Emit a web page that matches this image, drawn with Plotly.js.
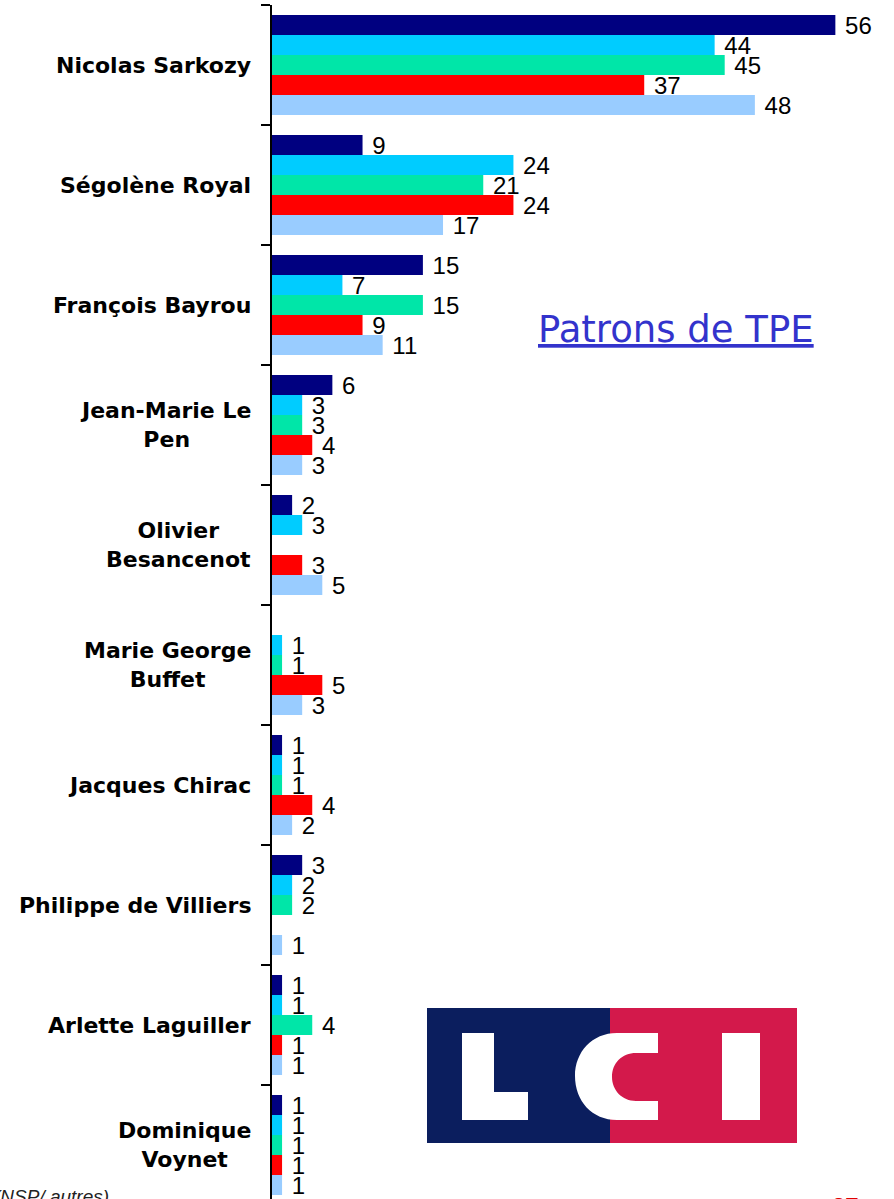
<!DOCTYPE html>
<html><head><meta charset="utf-8">
<script src="https://cdn.plot.ly/plotly-3.0.1.min.js"></script>
<style>html,body{margin:0;padding:0;background:#fff;}</style>
</head><body><div id="chart" style="width:894px;height:1199px;"></div>
<script>
const categories = ["Nicolas Sarkozy","Ségolène Royal","François Bayrou","Jean-Marie Le<br>Pen","Olivier<br>Besancenot","Marie George<br>Buffet","Jacques Chirac","Philippe de Villiers","Arlette Laguiller","Dominique<br>Voynet"];
const seriesNames = ["Série 1","Série 2","Série 3","Série 4","Série 5"];
const serie1 = [56, 9, 15, 6, 2, null, 1, 3, 1, 1];
const serie2 = [44, 24, 7, 3, 3, 1, 1, 2, 1, 1];
const serie3 = [45, 21, 15, 3, null, 1, 1, 2, 4, 1];
const serie4 = [37, 24, 9, 4, 3, 5, 4, null, 1, 1];
const serie5 = [48, 17, 11, 3, 5, 3, 2, 1, 1, 1];
const colors = ["#000080","#00CCFF","#00E6A8","#FF0000","#99CCFF"];
const allSeries = [serie1, serie2, serie3, serie4, serie5];

const W = 894, H = 1199, L = 272, R = 0, T = 5, B = 0;
const PW = W - L - R, PH = H - T - B;
const px = x => (x - L) / PW;
const py = y => 1 - (y - T) / PH;

const traces = allSeries.map((vals, i) => ({
  type: 'bar', orientation: 'h', name: seriesNames[i],
  y: categories, x: vals,
  marker: {color: colors[i], line: {width: 0}},
  text: vals.map(v => v == null ? '' : '\u00a0' + v),
  textposition: 'outside', constraintext: 'none', cliponaxis: false,
  textfont: {family: 'Liberation Sans, Arial, sans-serif', size: 24, color: '#000'},
  hoverinfo: 'x+y'
}));

const annotations = categories.map(c => ({
  xref: 'paper', yref: 'y', x: px(253), y: c, xanchor: 'right', yanchor: 'middle',
  align: 'center', showarrow: false, text: c,
  font: {family: 'DejaVu Sans, sans-serif', size: 22, color: '#000', weight: 'bold'}
}));
annotations.push({
  xref: 'paper', yref: 'paper', x: px(676), y: py(329), xanchor: 'center', yanchor: 'middle',
  showarrow: false, text: '<u>Patrons de TPE</u>',
  font: {family: 'DejaVu Sans, sans-serif', size: 37, color: '#3333CC'}
});
annotations.push({
  xref: 'paper', yref: 'paper', x: px(111), y: py(1184), xanchor: 'right', yanchor: 'top',
  showarrow: false, text: '<i>(NSP/ autres)</i>',
  font: {family: 'Liberation Sans, Arial, sans-serif', size: 19, color: '#222'}
});
annotations.push({
  xref: 'paper', yref: 'paper', x: px(845), y: py(1191), xanchor: 'center', yanchor: 'top',
  showarrow: false, text: '<b>27</b>',
  font: {family: 'Liberation Sans, Arial, sans-serif', size: 24, color: '#E00000'}
});

function rect(x0, y0, x1, y1, color) {
  return {type: 'rect', xref: 'paper', yref: 'paper', x0: px(x0), x1: px(x1), y0: py(y0), y1: py(y1),
          fillcolor: color, line: {width: 0}, layer: 'above'};
}
function pathShape(pts, color) {
  const s = pts.map(p => p[0] + ' ' + p.slice(1).map((v, k) => k % 2 === 0 ? px(v) : py(v)).join(',')).join(' ') + ' Z';
  return {type: 'path', xref: 'paper', yref: 'paper', path: s, fillcolor: color, line: {width: 0}, layer: 'above'};
}
const shapes = [
  rect(427, 1008, 611, 1143, '#0B1E5E'),
  rect(610, 1008, 797, 1143, '#D3194B'),
  rect(462, 1033, 494, 1120, '#FFFFFF'),
  rect(462, 1092, 528, 1120, '#FFFFFF'),
  rect(722, 1033, 760, 1120, '#FFFFFF'),
  pathShape([
    ['M', 658, 1033], ['L', 617, 1033],
    ['C', 592, 1033, 575, 1052, 575, 1076],
    ['C', 575, 1101, 592, 1120, 617, 1120],
    ['L', 658, 1120], ['L', 658, 1101], ['L', 636, 1101],
    ['C', 622, 1101, 612, 1090, 612, 1077],
    ['C', 612, 1063, 622, 1053, 636, 1053],
    ['L', 658, 1053]
  ], '#FFFFFF')
];

const layout = {
  width: W, height: H,
  margin: {l: L, r: R, t: T, b: B, pad: 0},
  paper_bgcolor: '#fff', plot_bgcolor: '#fff',
  showlegend: false,
  barmode: 'group', bargap: 0.1667, bargroupgap: 0,
  xaxis: {visible: false, range: [0, PW / 10.06], fixedrange: true},
  yaxis: {
    type: 'category', range: [-0.5 + PH / 120, -0.5],
    showticklabels: false, ticks: 'outside', tickson: 'boundaries',
    ticklen: 9, tickwidth: 2, tickcolor: '#000',
    showline: true, linewidth: 2, linecolor: '#000', showgrid: false, zeroline: false
  },
  annotations: annotations,
  shapes: shapes
};
Plotly.newPlot('chart', traces, layout, {displayModeBar: false, staticPlot: true});
</script></body></html>
